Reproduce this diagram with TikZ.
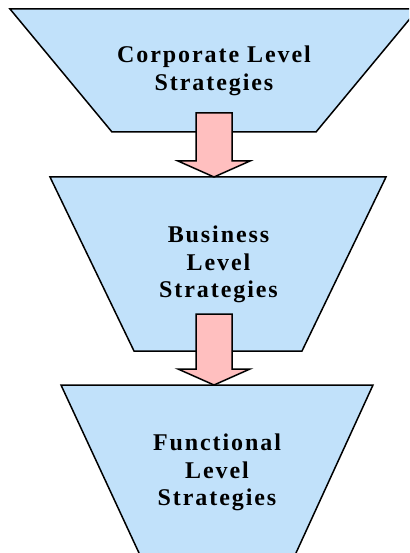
\documentclass[tikz,border=0pt]{standalone}
\usepackage{fontspec}
\usetikzlibrary{calc}
\newfontfamily\stagefont{Liberation Serif}[LetterSpace=8]
\definecolor{stageblue}{RGB}{193,225,250}
\definecolor{flowpink}{RGB}{255,191,191}
\begin{document}
\begin{tikzpicture}[x=1pt, y=-1pt, line width=1.5pt, line join=miter,
	stage/.style={draw=black, fill=stageblue},
	flow/.style={draw=black, fill=flowpink},
	label/.style={align=center, inner sep=0pt,
		font=\stagefont\bfseries\fontsize{24}{27.5}\selectfont}]
	\clip (0,0) rectangle (409,553);
	\useasboundingbox (0,0) rectangle (409,553);
	
	%stages
	\draw[stage] (10,9) -- (418,9) -- (316,132) -- (112,132) -- cycle;
	\draw[stage] (50,177) -- (386,177) -- (302,351) -- (134,351) -- cycle;
	\draw[stage] (61,385) -- (373,385) -- (294.6,556) -- (140.4,556) -- cycle;
	
	\node[label] (corp) at (214,71) {Corporate Level\\Strategies};
	\node[label] (bus) at (218.5,264.7) {Business\\Level\\Strategies};
	\node[label] (func) at (217,472.5) {Functional\\Level\\Strategies};
	
	%arrow ends
	\coordinate (corpout) at (214,113);
	\coordinate (busin) at (214,177);
	\coordinate (busout) at (214,314);
	\coordinate (funcin) at (214,385);
	
	%block arrows
	\foreach \a/\b in {corpout/busin, busout/funcin}
	\draw[flow] ($(\a)+(-18,0)$) -- ($(\a)+(18,0)$) -- ($(\b)+(18,-16)$)
		-- ($(\b)+(36,-16)$) -- (\b) -- ($(\b)+(-36,-16)$)
		-- ($(\b)+(-18,-16)$) -- cycle;
\end{tikzpicture}
\end{document}
